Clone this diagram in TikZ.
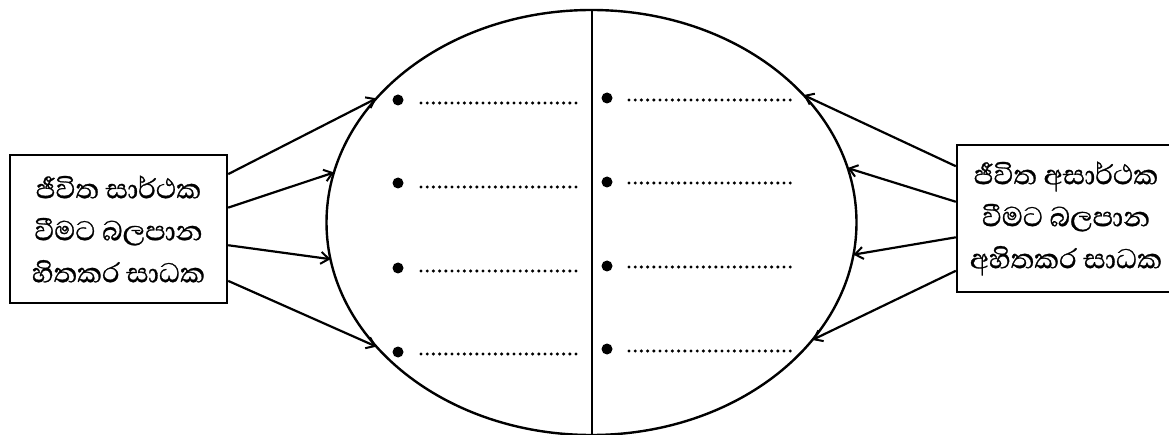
\documentclass[tikz,border=0pt]{standalone}
\usepackage{fontspec}
\newfontfamily\sinhala[Script=Sinhala,FakeBold=0.8]{Abhaya Libre}
\usepackage{tikz}
\usetikzlibrary{arrows.meta,positioning,calc,shapes.geometric}

\begin{document}
\begin{tikzpicture}[x=1pt,y=-1pt,
      box/.style={draw,line width=2.4pt,inner sep=0pt,align=center,
        font=\sinhala\fontsize{35}{42}\selectfont},
      link/.style={line width=2.2pt,-{Straight Barb[length=8pt,width=12pt,line width=2pt]}},
      blank/.style={line width=3.4pt,line cap=round,dash pattern=on 0pt off 6.2pt}]
    \useasboundingbox (0,0) rectangle (1169,435);
    % the oval, split in two
    \node[ellipse,draw,line width=2.4pt,inner sep=0pt,outer sep=0pt,
          minimum width=530pt,minimum height=425pt] (oval) at (591.5,222.5) {};
    \draw[line width=2pt] (oval.north) -- (oval.south);
    % the two boxes
    \node[box,minimum width=217pt,minimum height=148pt] (lbox) at (118.5,229)
      {ජීවිත සාර්ථක\\වීමට බලපාන\\හිතකර සාධක};
    \node[box,minimum width=218pt,minimum height=147pt] (rbox) at (1066,218.5)
      {ජීවිත අසාර්ථක\\වීමට බලපාන\\අහිතකර සාධක};
    % arrows into the oval
    \foreach \f/\a in {0.135/150,0.358/169.2,0.608/188.9,0.845/210.1}
      \draw[link] ($(lbox.north east)!\f!(lbox.south east)$) -- (oval.\a);
    \foreach \f/\a in {0.150/31.2,0.388/12,0.626/-7.7,0.850/-28.9}
      \draw[link] ($(rbox.north west)!\f!(rbox.south west)$) -- (oval.\a);
    % bullets with blanks to fill in
    \foreach \y/\d in {100/103,183/187,268/271,352/354} {
      \fill (398,\y) circle (5.5);
      \draw[blank] (421,\d) -- (582,\d);
    }
    \foreach \y/\d in {98/100,182/183,266/267,349/351} {
      \fill (607,\y) circle (5.5);
      \draw[blank] (629,\d) -- (792,\d);
    }
  \end{tikzpicture}
\end{document}
